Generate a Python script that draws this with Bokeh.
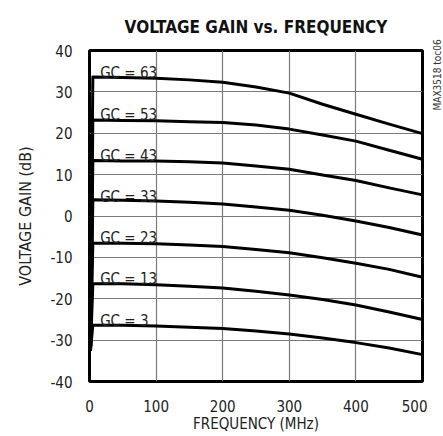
import math
from bokeh.plotting import figure
from bokeh.layouts import row
from bokeh.models import Label, FixedTicker
from bokeh.embed import file_html
from bokeh.resources import INLINE

# ---- data ----
freq_mhz = [5, 50, 100, 150, 200, 250, 300, 350, 400, 450, 500]
gc_names = ["GC = 63", "GC = 53", "GC = 43", "GC = 33", "GC = 23", "GC = 13", "GC = 3"]
gc_label_db = [34.5, 24.5, 14.6, 4.7, -5.4, -15.3, -25.3]
gain_gc63 = [33.6, 33.5, 33.3, 32.9, 32.3, 31.2, 29.7, 27.0, 24.6, 22.2, 19.9]
gain_gc53 = [23.2, 23.1, 23.0, 22.8, 22.6, 22.0, 21.0, 19.6, 18.1, 15.9, 13.7]
gain_gc43 = [13.4, 13.3, 13.3, 13.1, 12.8, 12.1, 11.3, 9.9, 8.6, 6.8, 5.1]
gain_gc33 = [3.9, 3.8, 3.6, 3.3, 2.9, 2.2, 1.4, 0.2, -1.2, -2.8, -4.6]
gain_gc23 = [-6.6, -6.6, -6.7, -7.0, -7.4, -8.1, -8.9, -10.1, -11.4, -12.9, -14.8]
gain_gc13 = [-16.4, -16.4, -16.6, -17.0, -17.4, -18.2, -19.1, -20.2, -21.5, -23.2, -25.0]
gain_gc3 = [-26.4, -26.4, -26.6, -26.9, -27.2, -27.8, -28.5, -29.5, -30.6, -31.9, -33.5]
start_freq_mhz = 1.5
start_gain_db = -32.5
all_gains = [gain_gc63, gain_gc53, gain_gc43, gain_gc33, gain_gc23, gain_gc13, gain_gc3]

x_ticks = [0, 100, 200, 300, 400, 500]
x_tick_labels = ["0", "100", "200", "300", "400", "500"]
y_ticks = [-40, -30, -20, -10, 0, 10, 20, 30, 40]
y_tick_labels = ["-40", "-30", "-20", "-10", "0", "10", "20", "30", "40"]

title_text = "VOLTAGE GAIN vs. FREQUENCY"
x_label_text = "FREQUENCY (MHz)"
y_label_text = "VOLTAGE GAIN (dB)"
tag_text = "MAX3518 toc06"

NARROW = "DejaVu Sans Condensed"
INK = "#222222"

p = figure(width=427, height=436, x_range=(0, 500), y_range=(-40, 40),
           output_backend="svg", toolbar_location=None,
           min_border_left=89, min_border_right=5, min_border_top=50, min_border_bottom=55)
p.background_fill_color = "white"
p.border_fill_color = "white"
p.outline_line_color = "black"
p.outline_line_width = 3

# title
p.title.text = title_text
p.title.align = "center"
p.title.text_font = NARROW
p.title.text_font_style = "bold"
p.title.text_font_size = "17px"
p.title.text_color = "#111111"
p.title.standoff = 28

# grid
p.xgrid.ticker = FixedTicker(ticks=x_ticks)
p.ygrid.ticker = FixedTicker(ticks=y_ticks)
for g in (p.xgrid, p.ygrid):
    g.grid_line_color = "#7a7a7a"
    g.grid_line_width = 1.2

# axes
p.xaxis.ticker = FixedTicker(ticks=x_ticks)
p.yaxis.ticker = FixedTicker(ticks=y_ticks)
p.xaxis.major_label_overrides = {t: s for t, s in zip(x_ticks, x_tick_labels)}
p.yaxis.major_label_overrides = {t: s for t, s in zip(y_ticks, y_tick_labels)}
for ax in (p.xaxis, p.yaxis):
    ax.axis_line_color = None
    ax.major_tick_line_color = None
    ax.minor_tick_line_color = None
    ax.major_tick_out = 0
    ax.major_tick_in = 0
    ax.major_label_text_font = NARROW
    ax.major_label_text_font_size = "15px"
    ax.major_label_text_color = INK
    ax.axis_label_text_font = NARROW
    ax.axis_label_text_font_style = "normal"
    ax.axis_label_text_color = INK
p.xaxis.major_label_standoff = 18
p.yaxis.major_label_standoff = 17
p.yaxis.axis_label = y_label_text
p.yaxis.axis_label_text_font_size = "16px"
p.yaxis.axis_label_standoff = 12
p.xaxis.axis_label = x_label_text
p.xaxis.axis_label_text_font_size = "15px"
p.xaxis.axis_label_standoff = 0

# curves
for gains in all_gains:
    xs = [start_freq_mhz] + freq_mhz
    ys = [start_gain_db] + gains
    p.line(xs, ys, line_color="black", line_width=3, line_join="round")

# GC labels
for name, ly in zip(gc_names, gc_label_db):
    p.add_layout(Label(x=16, y=ly, text=name, text_font=NARROW,
                       text_font_size="15px", text_color=INK,
                       text_baseline="alphabetic", text_align="left"))

# side tag in a thin strip at the right
tag = figure(width=16, height=436, x_range=(0, 16), y_range=(0, 436),
             output_backend="svg", toolbar_location=None,
             x_axis_location=None, y_axis_location=None,
             title_location=None, min_border=0)
try:
    tag.frame_align = False
    tag_y = 326
except Exception:
    tag_y = 351
tag.outline_line_color = None
tag.xgrid.visible = False
tag.ygrid.visible = False
tag.background_fill_color = "white"
tag.border_fill_color = "white"
tag.add_layout(Label(x=10, y=tag_y, text=tag_text, text_font=NARROW,
                     text_font_size="10px", text_color="#333333",
                     text_align="left", text_baseline="alphabetic",
                     angle=math.pi / 2))

layout = row(p, tag, spacing=0)
open("out.html", "w").write(file_html(layout, INLINE))
